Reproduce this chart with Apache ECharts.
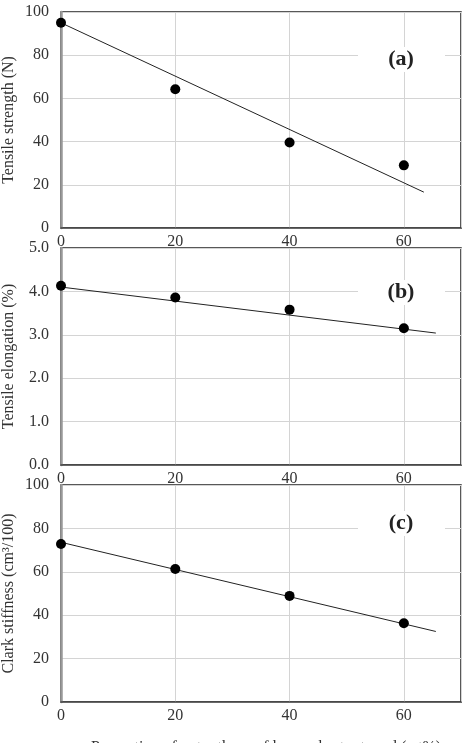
<!DOCTYPE html>
<html>
<head>
<meta charset="utf-8">
<script src="https://cdn.jsdelivr.net/npm/echarts@6/dist/echarts.min.js"></script>
<style>
html, body { margin: 0; padding: 0; background: #fff; }
#main { width: 467px; height: 743px; }
</style>
</head>
<body>
<div id="main"></div>
<script>
// 数据
var xTicks = [0, 20, 40, 60];
var strengthPts = [[0, 95], [20, 64.2], [40, 39.6], [60, 29]];
var strengthFit = [[0, 95], [63.5, 16.6]];
var elongPts = [[0, 4.13], [20, 3.86], [40, 3.58], [60, 3.15]];
var elongFit = [[0, 4.1], [65.6, 3.04]];
var stiffPts = [[0, 72.8], [20, 61.3], [40, 48.9], [60, 36.3]];
var stiffFit = [[0, 73.6], [65.6, 32.5]];
var panelTags = ['(a)', '(b)', '(c)'];
var yNames = ['Tensile strength (N)', 'Tensile elongation (%)', 'Clark stiffness (cm\u00b3/100)'];
var xTitle = 'Proportion of outer theca of horse chestnut seed (wt%)';

var serif = 'Liberation Serif';
var chart = echarts.init(document.getElementById('main'));

var grids = [
	{ left: 61, top: 12, width: 400, height: 216 },
	{ left: 61, top: 248, width: 400, height: 217 },
	{ left: 61, top: 485, width: 400, height: 217 }
];
grids.forEach(function(g) {
	g.show = true;
	g.borderColor = '#222';
	g.borderWidth = 1.5;
	g.backgroundColor = 'transparent';
	g.containLabel = false;
	g.outerBoundsMode = 'none';
});

function makeX(i) {
	return {
		type: 'value', gridIndex: i, min: 0, max: 70, interval: 20,
		axisLine: { show: true, onZero: false, lineStyle: { color: '#444', width: 1.5 } },
		axisTick: { show: false },
		axisLabel: {
			fontFamily: serif, fontSize: 16, color: '#333', margin: 6,
			formatter: function(v) { return xTicks.indexOf(v) >= 0 ? String(v) : ''; }
		},
		splitLine: { show: true, lineStyle: { color: '#d4d4d4', width: 1 } }
	};
}
function makeY(i, max, interval, digits) {
	return {
		type: 'value', gridIndex: i, min: 0, max: max, interval: interval,
		name: yNames[i], nameLocation: 'middle', nameGap: 44, nameMoveOverlap: false,
		nameTextStyle: { fontFamily: serif, fontSize: 16, color: '#333' },
		axisLine: { show: true, onZero: false, lineStyle: { color: '#999', width: 2.5 } },
		axisTick: { show: false },
		axisLabel: {
			fontFamily: serif, fontSize: 16, color: '#333', margin: 12,
			formatter: function(v) { return v.toFixed(digits); }
		},
		splitLine: { show: true, lineStyle: { color: '#d4d4d4', width: 1 } }
	};
}

function pts(i, data) {
	return { type: 'scatter', xAxisIndex: i, yAxisIndex: i, data: data, symbolSize: 10,
		itemStyle: { color: '#000', opacity: 1 }, z: 5 };
}
function fit(i, data) {
	return { type: 'line', xAxisIndex: i, yAxisIndex: i, data: data, symbol: 'none',
		lineStyle: { color: '#222', width: 1 }, z: 4 };
}

var tagY = [59, 292, 523];
var graphics = [];
tagY.forEach(function(y, i) {
	graphics.push({ type: 'rect', left: 358, top: y - 12, shape: { width: 87, height: 25 },
		style: { fill: '#fff' }, z: 10 });
	graphics.push({ type: 'text', x: 401, y: y, z: 11,
		style: { text: panelTags[i], font: 'bold 22px "Liberation Serif"', fill: '#222',
			align: 'center', verticalAlign: 'middle' } });
});
graphics.push({ type: 'text', x: 266, y: 748, z: 11,
	style: { text: xTitle, font: '16px "Liberation Serif"', fill: '#333',
		align: 'center', verticalAlign: 'middle' } });

chart.setOption({
	animation: false,
	grid: grids,
	xAxis: [makeX(0), makeX(1), makeX(2)],
	yAxis: [makeY(0, 100, 20, 0), makeY(1, 5, 1, 1), makeY(2, 100, 20, 0)],
	series: [
		pts(0, strengthPts), fit(0, strengthFit),
		pts(1, elongPts), fit(1, elongFit),
		pts(2, stiffPts), fit(2, stiffFit)
	],
	graphic: graphics
});
</script>
</body>
</html>
